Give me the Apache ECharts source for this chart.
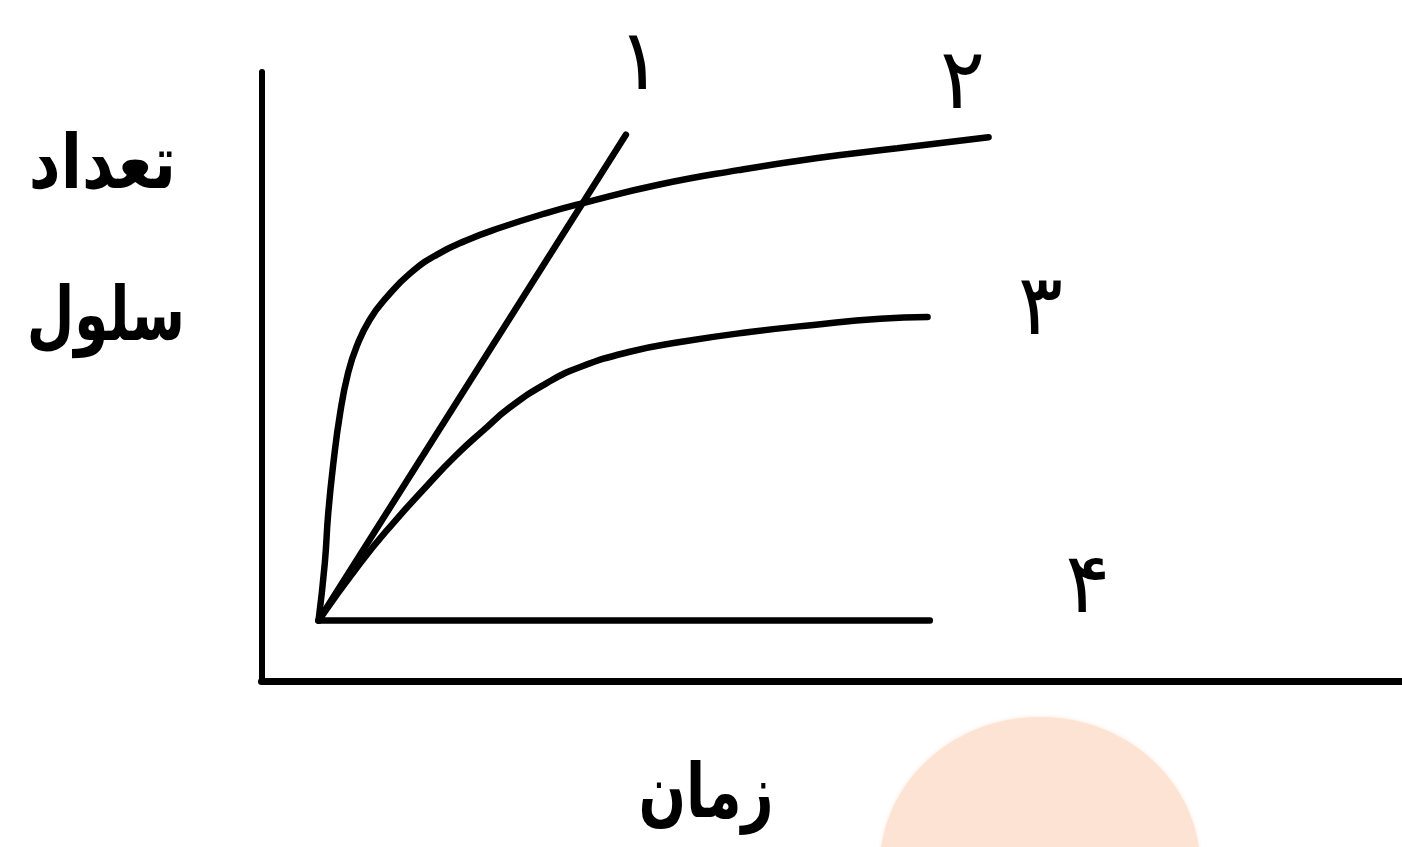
<!DOCTYPE html>
<html>
<head>
<meta charset="utf-8">
<script src="https://cdn.jsdelivr.net/npm/echarts@6/dist/echarts.min.js"></script>
<style>
  html, body { margin: 0; padding: 0; background: #fff; }
  #chart { width: 1402px; height: 847px; }
</style>
</head>
<body>
<div id="chart"></div>
<script>
// curve names (Persian digits)
const curveNames = ['۱', '۲', '۳', '۴'];

// [time, cell count]
const curve1 = [[1, 1], [6.39, 8.97]];
const curve2 = [
  [1, 1], [1.11, 1.94], [1.17, 2.76], [1.26, 3.58], [1.38, 4.41], [1.52, 5.07],
  [1.67, 5.5], [1.9, 5.94], [2.2, 6.31], [2.61, 6.7], [3.07, 7.0], [3.6, 7.24],
  [4.17, 7.44], [5.01, 7.69], [5.64, 7.85], [6.96, 8.15], [8.36, 8.39], [9.75, 8.59],
  [11.15, 8.75], [12.75, 8.93]
];
const curve3 = [
  [1, 1], [1.73, 1.94], [2.31, 2.6], [2.89, 3.2], [3.4, 3.7], [3.89, 4.12],
  [4.36, 4.5], [5.01, 4.9], [5.59, 5.16], [6.46, 5.41], [7.34, 5.57], [8.52, 5.73],
  [9.68, 5.85], [10.85, 5.95], [11.68, 5.98]
];
const curve4 = [[1, 1], [11.72, 1]];

const yTitle = ['تعداد', 'سلول'];
const xTitle = 'زمان';

const font = '"DejaVu Sans", sans-serif';

function curve(name, data, smooth, offset) {
  return {
    type: 'line',
    name: name,
    data: data,
    smooth: smooth,
    symbol: 'none',
    lineStyle: { color: '#000', width: 6.5, cap: 'round', join: 'round' },
    endLabel: {
      show: true,
      formatter: '{a}',
      distance: 0,
      offset: offset,
      align: 'center',
      verticalAlign: 'middle',
      color: '#000',
      fontFamily: font,
      fontSize: 84
    }
  };
}

function title(text, x, y, align, sx, sy) {
  return {
    type: 'text', x: x, y: y, scaleX: sx, scaleY: sy,
    style: { text: text, fill: '#000', font: 'bold 62px ' + font, align: align, verticalAlign: 'top' }
  };
}

const chart = echarts.init(document.getElementById('chart'));
chart.setOption({
  animation: false,
  backgroundColor: '#fff',
  grid: { left: 261.5, top: 72, right: 0, bottom: 165.5 },
  xAxis: {
    type: 'value', min: 0, max: 20,
    axisLine: { show: true, lineStyle: { color: '#000', width: 7 } },
    axisTick: { show: false }, axisLabel: { show: false }, splitLine: { show: false }
  },
  yAxis: {
    type: 'value', min: 0, max: 10,
    axisLine: { show: true, lineStyle: { color: '#000', width: 6 } },
    axisTick: { show: false }, axisLabel: { show: false }, splitLine: { show: false }
  },
  graphic: [
    {
      type: 'ellipse', z: -10, silent: true,
      shape: { cx: 1040, cy: 867, rx: 160, ry: 150 },
      style: { fill: '#fde3d3', shadowBlur: 4, shadowColor: '#fde3d3' }
    },
    title(yTitle[0], 176, 131, 'right', 1, 1.2),
    title(yTitle[1], 185, 283, 'right', 0.885, 1.2),
    title(xTitle, 706, 760, 'center', 0.9, 1.2)
  ],
  series: [
    curve(curveNames[0], curve1, false, [14, -68]),
    curve(curveNames[1], curve2, 0.5, [-26, -51]),
    curve(curveNames[2], curve3, 0.5, [113, -5]),
    curve(curveNames[3], curve4, false, [158, -30])
  ]
});
</script>
</body>
</html>
